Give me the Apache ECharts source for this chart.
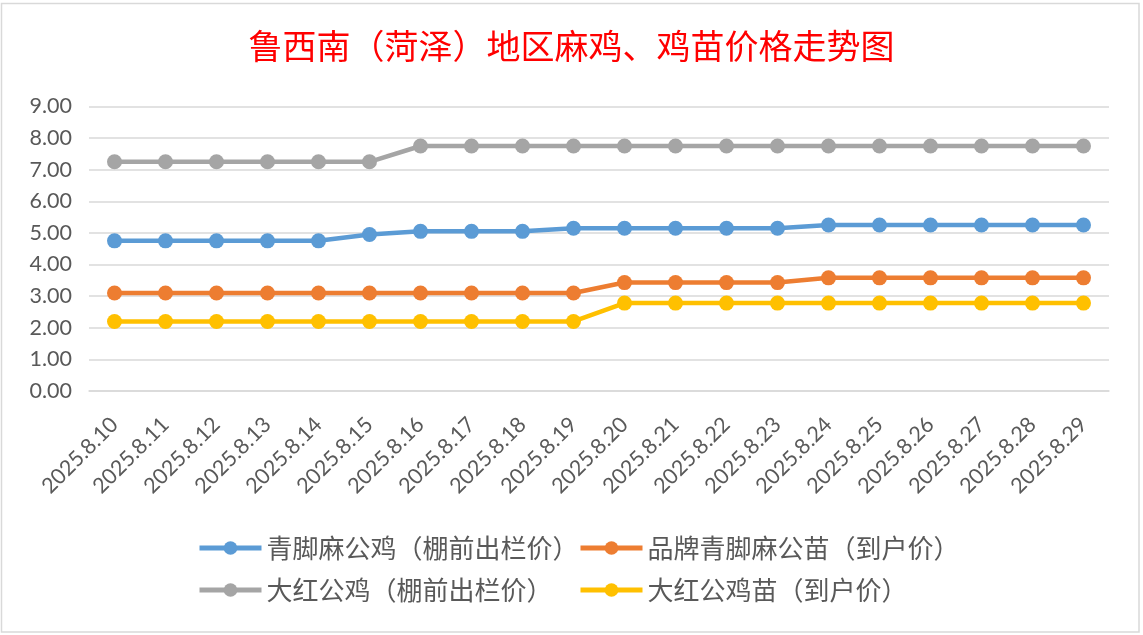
<!DOCTYPE html>
<html>
<head>
<meta charset="utf-8">
<script src="https://cdn.jsdelivr.net/npm/echarts@6/dist/echarts.min.js"></script>
<style>
html,body{margin:0;padding:0;background:#fff;}
#chart{width:1143px;height:635px;}
</style>
</head>
<body>
<div id="chart"></div>
<script>
const categories = ['2025.8.10','2025.8.11','2025.8.12','2025.8.13','2025.8.14','2025.8.15','2025.8.16','2025.8.17','2025.8.18','2025.8.19','2025.8.20','2025.8.21','2025.8.22','2025.8.23','2025.8.24','2025.8.25','2025.8.26','2025.8.27','2025.8.28','2025.8.29'];
const seriesNames = ['青脚麻公鸡（棚前出栏价）','品牌青脚麻公苗（到户价）','大红公鸡（棚前出栏价）','大红公鸡苗（到户价）'];
const qingjiaoRooster = [4.75,4.75,4.75,4.75,4.75,4.95,5.05,5.05,5.05,5.15,5.15,5.15,5.15,5.15,5.25,5.25,5.25,5.25,5.25,5.25];
const qingjiaoChick  = [3.1,3.1,3.1,3.1,3.1,3.1,3.1,3.1,3.1,3.1,3.43,3.43,3.43,3.43,3.58,3.58,3.58,3.58,3.58,3.58];
const redRooster     = [7.25,7.25,7.25,7.25,7.25,7.25,7.75,7.75,7.75,7.75,7.75,7.75,7.75,7.75,7.75,7.75,7.75,7.75,7.75,7.75];
const redChick       = [2.2,2.2,2.2,2.2,2.2,2.2,2.2,2.2,2.2,2.2,2.78,2.78,2.78,2.78,2.78,2.78,2.78,2.78,2.78,2.78];
const yTicks = { min: 0, max: 9, interval: 1 };
const colors = ['#5b9bd5','#ed7d31','#a5a5a5','#ffc000'];

const chart = echarts.init(document.getElementById('chart'));
const seriesData = [qingjiaoRooster, qingjiaoChick, redRooster, redChick];
const textFont = "'Noto Sans CJK SC', 'Noto Sans', sans-serif";
const numFont = "Lato, 'Open Sans', sans-serif";

const legendPos = [[197,535],[578,535],[197,577],[578,577]];

chart.setOption({
  animation: false,
  backgroundColor: '#ffffff',
  title: {
    text: '鲁西南（菏泽）地区麻鸡、鸡苗价格走势图',
    left: 'center',
    top: 24,
    textStyle: { color: '#ff0000', fontSize: 34, fontWeight: 'normal', fontFamily: textFont }
  },
  graphic: [{
    type: 'rect', silent: true,
    shape: { x: 1.5, y: 3.5, width: 1137.5, height: 628.5 },
    style: { fill: 'none', stroke: '#d9d9d9', lineWidth: 1.5 }
  }],
  legend: seriesNames.map((n, i) => ({
    data: [n],
    left: legendPos[i][0],
    top: legendPos[i][1],
    padding: 0,
    itemWidth: 62,
    itemHeight: 17,
    selectedMode: false,
    lineStyle: { width: 5 },
    textStyle: { color: '#595959', fontSize: 26, fontFamily: textFont }
  })),
  grid: { left: 89, right: 34, top: 106.5, bottom: 244, containLabel: false },
  xAxis: {
    type: 'category',
    data: categories,
    boundaryGap: true,
    axisLine: { show: true, lineStyle: { color: '#d9d9d9', width: 1.5 } },
    axisTick: { show: false },
    axisLabel: { rotate: 45, margin: 30, color: '#595959', fontSize: 21.5, fontFamily: numFont, interval: 0 }
  },
  yAxis: {
    type: 'value',
    min: yTicks.min, max: yTicks.max, interval: yTicks.interval,
    axisLine: { show: false },
    axisTick: { show: false },
    splitLine: { lineStyle: { color: '#d9d9d9', width: 1.5 } },
    axisLabel: { color: '#595959', fontSize: 21.5, fontFamily: numFont, margin: 17, formatter: v => v.toFixed(2) }
  },
  series: seriesNames.map((n, i) => ({
    name: n,
    type: 'line',
    data: seriesData[i],
    symbol: 'circle',
    symbolSize: 15,
    color: colors[i],
    lineStyle: { width: 4.5, color: colors[i] },
    itemStyle: { color: colors[i] },
    z: [3,4,2,5][i]
  }))
});
</script>
</body>
</html>
